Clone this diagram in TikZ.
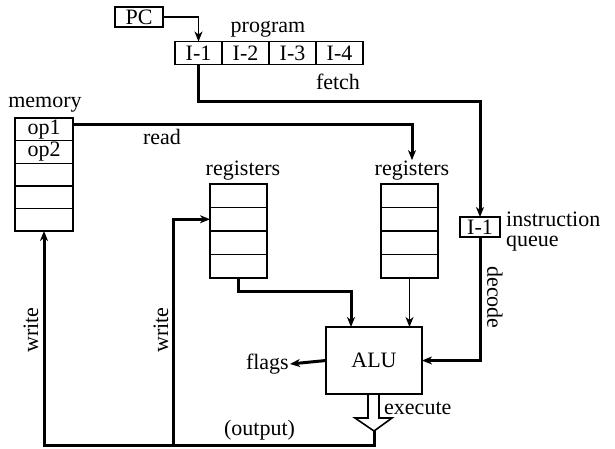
\documentclass[tikz,border=0pt]{standalone}
\usepackage{fontspec}
\setmainfont{Liberation Serif}
\usetikzlibrary{arrows.meta}
\tikzset{
  box/.style={draw, line width=1.4pt, inner sep=0pt, outer sep=0pt},
  memcell/.style={box, minimum width=58, minimum height=22.6},
  regcell/.style={box, minimum width=57, minimum height=23.5},
  wire/.style={line width=3pt},
  thinwire/.style={line width=1.6pt},
  tip/.style={-{Stealth[length=10pt,width=8pt,inset=3pt]}},
}
\begin{document}
\begin{tikzpicture}[x=1pt, y=-1pt, inner sep=1pt, font=\fontsize{22}{26}\selectfont]
\useasboundingbox (0,0) rectangle (615,448);
% program counter and program
\node[box, minimum width=48, minimum height=20] (pc) at (139,17) {PC};
\node (prog) at (268,29) {program};
\foreach \i in {1,...,4}
  \node[box, minimum width=47, minimum height=23] (I\i) at ({151.5+47*\i},53) {I-\i};
\draw[thinwire, tip] (pc.east) -| (I1.north);

% memory
\node (memlbl) at (45,104.5) {memory};
\foreach \i/\t in {1/op1,2/op2,3/,4/,5/}
  \node[memcell] (m\i) at (44,{106.7+22.6*\i}) {\t};

% registers
\node (regMlbl) at (243,171) {registers};
\node (regRlbl) at (412,171) {registers};
\foreach \i in {1,...,4} {
  \node[regcell] (rM\i) at (238.5,{172.25+23.5*\i}) {};
  \node[regcell] (rR\i) at (409.5,{172.25+23.5*\i}) {};
}

% instruction queue and ALU
\node[box, minimum width=40, minimum height=20] (iq) at (480,227) {I-1};
\node[anchor=west] (iqlbl) at (505,219.5) {instruction};
\node[anchor=west] (qlbl) at (505,244) {queue};
\node[box, minimum width=96, minimum height=67] (alu) at (374,360.5) {ALU};
\node[anchor=east] (flags) at (290,364) {flags};
\coordinate (fetchbend) at (480,101);
\coordinate (outtip) at (374,431);
\coordinate (outbase) at (374,445);
\coordinate (wsplit) at (173,445);

\draw[wire, tip] (I1.south) |- (fetchbend) -- (iq.north);
\node (fetchlbl) at (338,82) {fetch};
\draw[wire, tip] ([yshift=5pt]m1.east) -| (regRlbl.north);
\node (readlbl) at (162,137) {read};
\draw[wire, tip] (iq.south) |- (alu.east);
\node[rotate=-90] (declbl) at (495,297.5) {decode};
\draw[wire, tip] (rM4.south) -- ++(0,13) -| ([xshift=-23pt]alu.north);
\draw[thinwire, tip] (rR4.south) -- (rR4.south |- alu.north);
\draw[wire, tip] (alu.west) -- (flags.east);

% execute
\draw[thinwire] ([xshift=-6pt]alu.south) -- ++(0,24) -- ++(-13,0) -- (outtip)
  -- ++(18,-13) -- ++(-13,0) -- ([xshift=5pt]alu.south);
\node[anchor=west] (exlbl) at (383,408.5) {execute};
\node (outlbl) at (259.5,430.5) {(output)};
\draw[wire, tip] (outtip) -- (outbase) -| (m5.south);
\node[rotate=90] (wmemlbl) at (31,330) {write};
\draw[wire, tip] (wsplit) |- (rM2.west);
\node[rotate=90] (wreglbl) at (161,330) {write};
\end{tikzpicture}
\end{document}
